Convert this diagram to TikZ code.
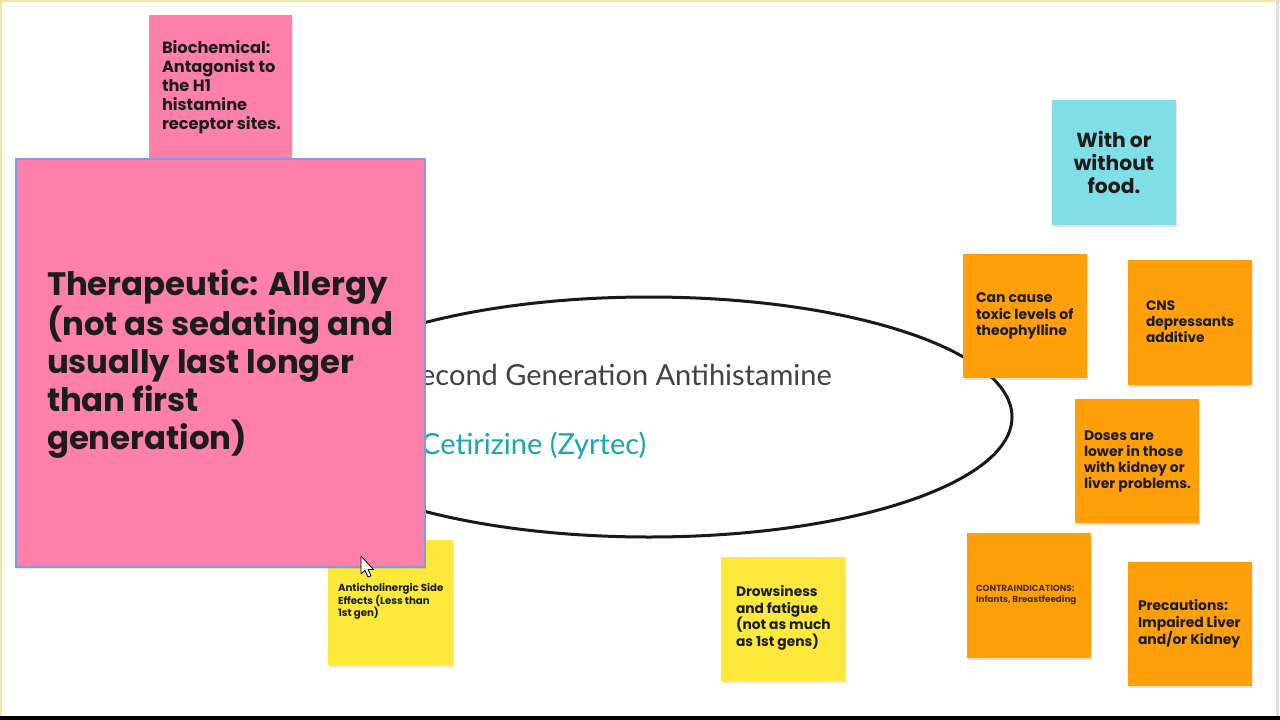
\documentclass[tikz,border=0pt]{standalone}
\usepackage{fontspec}
\usetikzlibrary{shapes.geometric,shadows}
\newfontfamily\notefont{Poppins}
\newfontfamily\docfont{Lato}
\definecolor{pinkC}{HTML}{FF80AB}
\definecolor{yellowC}{HTML}{FCE93B}
\definecolor{orangeC}{HTML}{FFA00A}
\definecolor{cyanC}{HTML}{80DEE6}
\definecolor{tealC}{HTML}{1AA4B5}
\definecolor{grayT}{HTML}{424242}
\definecolor{inkC}{HTML}{1C1C1C}
\definecolor{brownC}{HTML}{4A3000}
\definecolor{selC}{HTML}{7E9CDF}
\definecolor{frameY}{HTML}{F3E6A0}
\begin{document}
\begin{tikzpicture}[x=1pt,y=-1pt,
  note/.style={inner sep=0pt, outer sep=0pt, anchor=north west,
    drop shadow={shadow xshift=0.8pt, shadow yshift=-1.5pt, opacity=0.22}},
  sq/.style={note, minimum width=124pt, minimum height=124pt},
  txt/.style={inner sep=0pt, outer sep=0pt, anchor=west, align=left, text=inkC},
]
\useasboundingbox (0,0) rectangle (1280,720);
\fill[white] (0,0) rectangle (1280,720);
% screen frame
\draw[frameY, line width=2pt] (0,1) -- (1280,1);
\draw[frameY, line width=2pt] (1,0) -- (1,716);
\draw[black!13, line width=3pt] (1277.5,0) -- (1277.5,716);
\fill[black] (0,716) rectangle (1280,720);

% central oval
\node[ellipse, draw=black!90, line width=3pt, minimum width=726pt, minimum height=240pt, inner sep=0pt] (oval) at (649,417) {};
\node[inner sep=0pt, anchor=east, text=grayT, font=\docfont\fontsize{29}{34}\selectfont] (title) at (832,375) {Second Generation Antihistamine};
\node[inner sep=0pt, anchor=west, text=tealC, font=\docfont\fontsize{29}{34}\selectfont] (drug) at (421,446) {Cetirizine (Zyrtec)};

% biochemical
\node[note, fill=pinkC, minimum width=143pt, minimum height=143pt] (bio) at (149,15) {};
\node[txt, font=\notefont\bfseries\fontsize{16.2}{19}\selectfont] (biot) at (162,87) {Biochemical:\\Antagonist to\\the H1\\histamine\\receptor sites.};

% anticholinergic (under big note)
\node[sq, fill=yellowC, minimum width=125pt, minimum height=125pt] (anti) at (328,540) {};
\node[txt, font=\notefont\bfseries\fontsize{10.2}{11.5}\selectfont] (antit) at (338,601.5) {Anticholinergic Side\\Effects (Less than\\1st gen)};

% therapeutic big note
\node[note, fill=pinkC, minimum width=409pt, minimum height=408pt] (ther) at (16,159) {};
\draw[selC, line width=1.3pt] (ther.north west) rectangle (ther.south east);
\node[txt, font=\notefont\bfseries\fontsize{32.4}{38}\selectfont] (thert) at (47,364) {Therapeutic: Allergy\\(not as sedating and\\usually last longer\\than first\\generation)};

% drowsiness
\node[sq, fill=yellowC] (drow) at (721,557) {};
\node[txt, font=\notefont\bfseries\fontsize{13.8}{16.7}\selectfont] (drowt) at (736,618) {Drowsiness\\and fatigue\\(not as much\\as 1st gens)};

% food
\node[sq, fill=cyanC, minimum width=124pt, minimum height=125pt] (food) at (1052,100) {};
\node[txt, anchor=center, align=center, font=\notefont\bfseries\fontsize{20.3}{23}\selectfont] (foodt) at (1114,162) {With or\\without\\food.};

% orange notes
\node[sq, fill=orangeC] (toxic) at (963,254) {};
\node[txt, font=\notefont\bfseries\fontsize{14}{16.5}\selectfont] (toxict) at (976,316) {Can cause\\toxic levels of\\theophylline};

\node[sq, fill=orangeC, minimum height=125pt] (cns) at (1128,260) {};
\node[txt, font=\notefont\bfseries\fontsize{13.7}{16}\selectfont] (cnst) at (1146,322) {CNS\\depressants\\additive};

\node[sq, fill=orangeC] (doses) at (1075,399) {};
\node[txt, font=\notefont\bfseries\fontsize{13.9}{16}\selectfont] (dosest) at (1084,461) {Doses are\\lower in those\\with kidney or\\liver problems.};

\node[sq, fill=orangeC, minimum height=125pt] (contra) at (967,533) {};
\node[txt, text=brownC, font=\notefont\bfseries\fontsize{8.8}{11}\selectfont] (contrat) at (976,595.5) {CONTRAINDICATIONS:\\Infants, Breastfeeding};

\node[sq, fill=orangeC] (prec) at (1128,562) {};
\node[txt, font=\notefont\bfseries\fontsize{13.9}{16.5}\selectfont] (prect) at (1138,624) {Precautions:\\Impaired Liver\\and/or Kidney};

% mouse cursor
\draw[black, fill=white, line width=0.8pt, line join=round, shift={(361,556)}]
  (0,0) -- (0,18) -- (4,14.5) -- (7,21) -- (10,19.8) -- (7,13.5) -- (12.5,13.5) -- cycle;
\end{tikzpicture}
\end{document}
